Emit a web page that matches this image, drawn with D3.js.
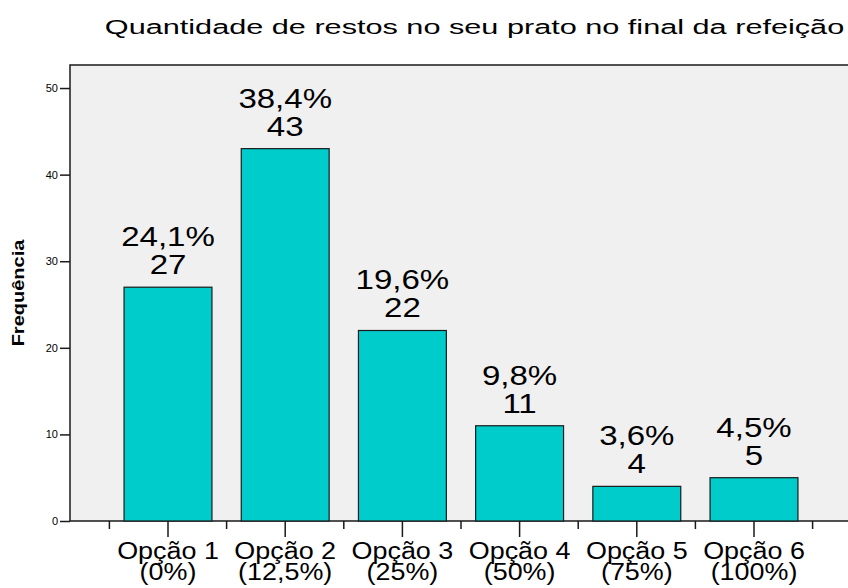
<!DOCTYPE html>
<html>
<head>
<meta charset="utf-8">
<script src="https://cdn.jsdelivr.net/npm/d3@7"></script>
<style>
    body { margin: 0; background: #fff; }
    svg text { font-family: "Liberation Sans", Arial, sans-serif; fill: #000; }
</style>
</head>
<body>
<svg id="chart" width="848" height="588"></svg>
<script>
// dados
const categories = ["Opção 1", "Opção 2", "Opção 3", "Opção 4", "Opção 5", "Opção 6"];
const subLabels = ["(0%)", "(12,5%)", "(25%)", "(50%)", "(75%)", "(100%)"];
const counts = [27, 43, 22, 11, 4, 5];
const percents = ["24,1%", "38,4%", "19,6%", "9,8%", "3,6%", "4,5%"];
const yTicks = [0, 10, 20, 30, 40, 50];

const svg = d3.select("#chart");
const plot = { left: 70, right: 851, top: 65, bottom: 521 };

const y = d3.scaleLinear().domain([0, 52.66]).range([plot.bottom, plot.top]);
const x = d3.scaleBand().domain(categories).range([109.4, 812.6]).padding(0);
const barW = x.bandwidth() * 0.75;

// fundo da área do gráfico
svg.append("rect")
    .attr("x", plot.left).attr("y", plot.top)
    .attr("width", plot.right - plot.left).attr("height", plot.bottom - plot.top)
    .attr("fill", "#f0f0f0").attr("stroke", "#1a1a1a").attr("stroke-width", 1.5);

// barras
svg.selectAll(".bar")
    .data(counts)
    .enter().append("rect")
    .attr("class", "bar")
    .attr("x", (d, i) => x(categories[i]) + (x.bandwidth() - barW) / 2)
    .attr("y", d => y(d))
    .attr("width", barW)
    .attr("height", d => y(0) - y(d))
    .attr("fill", "#00cccc")
    .attr("stroke", "#1a1a1a")
    .attr("stroke-width", 1.2);

// rótulos de valor
const valG = svg.selectAll(".val")
    .data(counts)
    .enter().append("g")
    .attr("class", "val");

valG.append("text")
    .attr("transform", (d, i) => `translate(${x(categories[i]) + x.bandwidth() / 2},${y(d) - 13}) scale(1.18,1)`)
    .attr("text-anchor", "middle")
    .style("font-size", "28px")
    .text(d => d);

valG.append("text")
    .attr("transform", (d, i) => `translate(${x(categories[i]) + x.bandwidth() / 2},${y(d) - 41}) scale(1.18,1)`)
    .attr("text-anchor", "middle")
    .style("font-size", "28px")
    .text((d, i) => percents[i]);

// eixo y
const yAxis = svg.append("g")
    .attr("transform", `translate(${plot.left},0)`)
    .call(d3.axisLeft(y).tickValues(yTicks).tickSize(10).tickPadding(2));
yAxis.select(".domain").remove();
yAxis.selectAll(".tick line").attr("stroke", "#1a1a1a").attr("stroke-width", 1.5);
yAxis.selectAll(".tick text")
    .style("font-size", "11px")
    .style("font-family", "'Liberation Sans', Arial, sans-serif")
    .attr("fill", "#000");

svg.append("text")
    .attr("transform", "translate(24,293) rotate(-90) scale(1.25,1)")
    .attr("text-anchor", "middle")
    .style("font-size", "16px")
    .style("font-weight", "bold")
    .text("Frequência");

// eixo x: marcas entre categorias e no centro
const bounds = categories.map(c => x(c)).concat([x(categories[categories.length - 1]) + x.bandwidth()]);
svg.selectAll(".btick")
    .data(bounds)
    .enter().append("line")
    .attr("x1", d => d).attr("x2", d => d)
    .attr("y1", plot.bottom).attr("y2", plot.bottom + 8)
    .attr("stroke", "#1a1a1a").attr("stroke-width", 1.5);

svg.selectAll(".ctick")
    .data(categories)
    .enter().append("line")
    .attr("x1", d => x(d) + x.bandwidth() / 2).attr("x2", d => x(d) + x.bandwidth() / 2)
    .attr("y1", plot.bottom).attr("y2", plot.bottom + 16)
    .attr("stroke", "#1a1a1a").attr("stroke-width", 1.5);

const catG = svg.selectAll(".cat")
    .data(categories)
    .enter().append("g")
    .attr("transform", d => `translate(${x(d) + x.bandwidth() / 2},0)`);

catG.append("text")
    .attr("transform", "translate(0,559) scale(1.17,1)")
    .attr("text-anchor", "middle")
    .style("font-size", "23px")
    .text(d => d);

catG.append("text")
    .attr("transform", "translate(0,580) scale(1.17,1)")
    .attr("text-anchor", "middle")
    .style("font-size", "23px")
    .text((d, i) => subLabels[i]);

// título
svg.append("text")
    .attr("transform", "translate(474.5,34) scale(1.46,1)")
    .attr("text-anchor", "middle")
    .style("font-size", "21px")
    .text("Quantidade de restos no seu prato no final da refeição");
</script>
</body>
</html>
